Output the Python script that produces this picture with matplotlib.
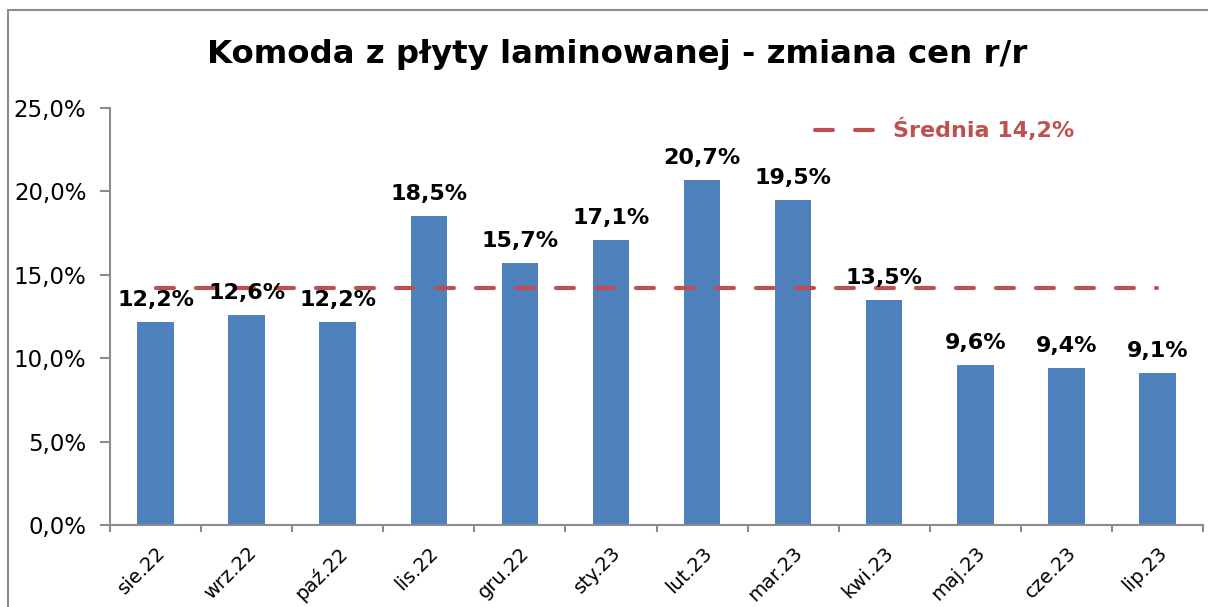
import numpy as np
import matplotlib
matplotlib.use("Agg")
import matplotlib.pyplot as plt
from matplotlib.patches import Rectangle

months = ["sie.22", "wrz.22", "paź.22", "lis.22", "gru.22", "sty.23",
          "lut.23", "mar.23", "kwi.23", "maj.23", "cze.23", "lip.23"]
changes = [12.2, 12.6, 12.2, 18.5, 15.7, 17.1, 20.7, 19.5, 13.5, 9.6, 9.4, 9.1]
mean_val = 14.2
y_ticks = [0, 5, 10, 15, 20, 25]

BLUE = "#4F81BD"; RED = "#C0504D"; GRAY = "#8C8C8C"
plt.rcParams["font.family"] = ["DejaVu Sans"]

def pl(v):
    return f"{v:.1f}%".replace(".", ",")

W, H = 1208, 607
fig = plt.figure(figsize=(W/100, H/100), dpi=100)
ax = fig.add_axes([110/W, 1-525/H, 1093/W, 417/H])

x = np.arange(len(months))
ax.bar(x, changes, width=0.4, color=BLUE, zorder=2)
for xi, v in zip(x, changes):
    ax.annotate(pl(v), (xi, v), xytext=(0, 11.5), textcoords="offset points",
                ha="center", va="baseline", fontsize=16, fontweight="bold",
                color="black", zorder=4)

ax.plot([0, len(months) - 1], [mean_val, mean_val], color=RED, lw=3,
        linestyle=(0, (4.3, 5.3)), dash_capstyle="round", zorder=3,
        label=f"Średnia {pl(mean_val)}")

ax.set_xlim(-0.5, len(months) - 0.5)
ax.set_ylim(0, 25)
ax.set_yticks(y_ticks)
ax.set_yticklabels([pl(t) for t in y_ticks], fontsize=16.5)
ax.set_xticks(x)
ax.set_xticklabels(months, rotation=45, ha="right", rotation_mode="anchor", fontsize=14)
ax.set_xticks(np.arange(len(months) + 1) - 0.5, minor=True)
ax.tick_params(axis="x", which="major", length=0, pad=13)
ax.tick_params(axis="x", which="minor", length=5, color=GRAY, width=1.5)
ax.tick_params(axis="y", length=7, color=GRAY, width=1.5, pad=10)
for s in ("top", "right"):
    ax.spines[s].set_visible(False)
for s in ("left", "bottom"):
    ax.spines[s].set_color(GRAY)
    ax.spines[s].set_linewidth(1.5)

leg = fig.legend(loc="center left", bbox_to_anchor=(815/W, 1-130/H), frameon=False,
                 borderpad=0, borderaxespad=0, handlelength=2.9, handletextpad=0.6,
                 prop={"size": 16, "weight": "bold"})
for t in leg.get_texts():
    t.set_color(RED)

fig.text(617/W, 1-55/H, "Komoda z płyty laminowanej - zmiana cen r/r", ha="center",
         va="center", fontsize=23.3, fontweight="bold")

fig.patches.append(Rectangle((8/W, -0.1), 1.2, 1-10/H+0.1, transform=fig.transFigure,
                             fill=False, edgecolor=GRAY, lw=1.5))

fig.savefig("out.png", dpi=100)
